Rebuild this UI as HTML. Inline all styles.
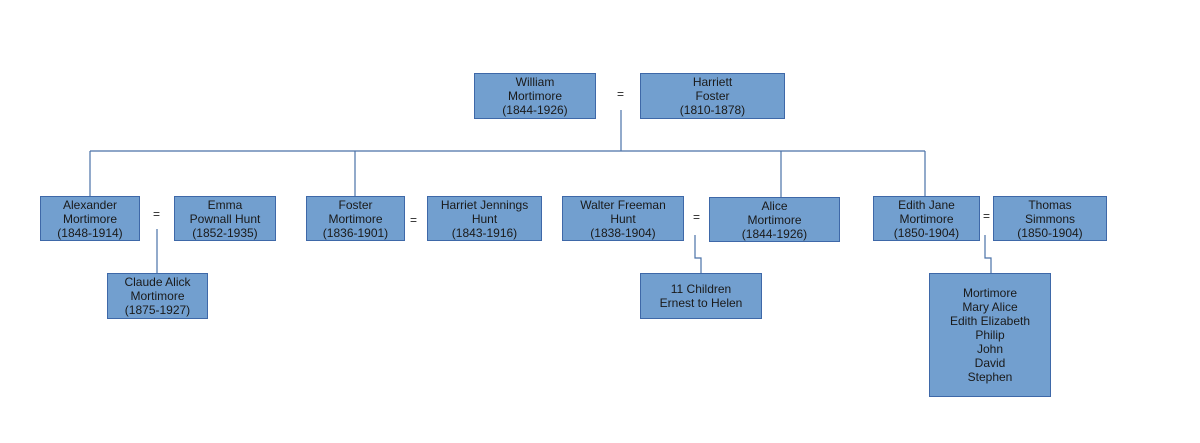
<!DOCTYPE html>
<html><head><meta charset="utf-8"><style>
body{margin:0;background:#fff;width:1200px;height:443px;position:relative;overflow:hidden;font-family:"Liberation Sans",sans-serif;}
.b{position:absolute;box-sizing:border-box;background:#729fcf;border:1px solid #3e68a8;color:#1a1a1a;font-size:12px;line-height:14px;text-align:center;display:flex;align-items:center;justify-content:center;}
.e{position:absolute;font-size:12px;color:#222;}
svg{position:absolute;left:0;top:0}
</style></head><body>
<svg width="1200" height="443"><g stroke="#4a72a8" stroke-width="1.2" fill="none">
<path d="M621 110V151"/><path d="M90 151H925"/>
<path d="M90 151V196M355 151V196M781 151V197M925 151V196"/>
<path d="M157 229V273"/>
<path d="M695 235V258H701V273"/>
<path d="M985 235V258H991V273"/>
</g></svg>
<div class="b" style="left:474px;top:73px;width:122px;height:46px">William<br>Mortimore<br>(1844-1926)</div>
<div class="e" style="left:617px;top:87px">=</div>
<div class="b" style="left:640px;top:73px;width:145px;height:46px">Harriett<br>Foster<br>(1810-1878)</div>
<div class="b" style="left:40px;top:196px;width:100px;height:45px">Alexander<br>Mortimore<br>(1848-1914)</div>
<div class="e" style="left:153px;top:207px">=</div>
<div class="b" style="left:174px;top:196px;width:102px;height:45px">Emma<br>Pownall Hunt<br>(1852-1935)</div>
<div class="b" style="left:107px;top:273px;width:101px;height:46px">Claude Alick<br>Mortimore<br>(1875-1927)</div>
<div class="b" style="left:306px;top:196px;width:99px;height:45px">Foster<br>Mortimore<br>(1836-1901)</div>
<div class="e" style="left:410px;top:213px">=</div>
<div class="b" style="left:427px;top:196px;width:115px;height:45px">Harriet Jennings<br>Hunt<br>(1843-1916)</div>
<div class="b" style="left:562px;top:196px;width:122px;height:45px">Walter Freeman<br>Hunt<br>(1838-1904)</div>
<div class="e" style="left:693px;top:210px">=</div>
<div class="b" style="left:709px;top:197px;width:131px;height:45px">Alice<br>Mortimore<br>(1844-1926)</div>
<div class="b" style="left:640px;top:273px;width:122px;height:46px">11 Children<br>Ernest to Helen</div>
<div class="b" style="left:873px;top:196px;width:107px;height:45px">Edith Jane<br>Mortimore<br>(1850-1904)</div>
<div class="e" style="left:983px;top:209px">=</div>
<div class="b" style="left:993px;top:196px;width:114px;height:45px">Thomas<br>Simmons<br>(1850-1904)</div>
<div class="b" style="left:929px;top:273px;width:122px;height:124px">Mortimore<br>Mary Alice<br>Edith Elizabeth<br>Philip<br>John<br>David<br>Stephen</div>
</body></html>
